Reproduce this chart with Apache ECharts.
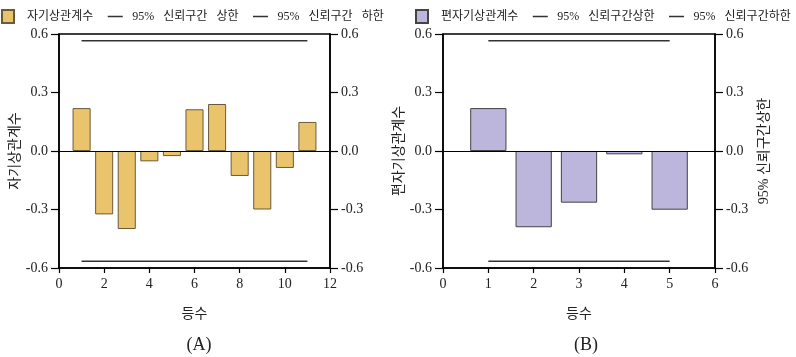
<!DOCTYPE html>
<html>
<head>
<meta charset="utf-8">
<script src="https://cdn.jsdelivr.net/npm/echarts@6/dist/echarts.min.js"></script>
<style>html,body{margin:0;padding:0;background:#fff}#c{width:796px;height:357px}</style>
</head>
<body>
<div id="c"></div>
<script>
// Panel A: autocorrelation (ACF)
var lagsA = [1,2,3,4,5,6,7,8,9,10,11];
var acfA = [0.22,-0.325,-0.40,-0.053,-0.026,0.214,0.241,-0.128,-0.30,-0.087,0.149];
var ciLagsA = [1,11];
var ciUpperA = [0.565,0.565];
var ciLowerA = [-0.565,-0.565];
// Panel B: partial autocorrelation (PACF)
var lagsB = [1,2,3,4,5];
var pacfB = [0.22,-0.391,-0.265,-0.017,-0.301];
var ciLagsB = [1,5];
var ciUpperB = [0.565,0.565];
var ciLowerB = [-0.565,-0.565];
// Ticks
var yTicks = [-0.6,-0.3,0,0.3,0.6];

var FONT = '"Liberation Serif","Noto Sans CJK KR",serif';
var KFONT = '"Noto Sans CJK KR","Liberation Serif",sans-serif';
function pairs(xs, ys){ return xs.map(function(x,i){ return [x, ys[i]]; }); }

var BAR_ICON = 'path://M0 0 L0 0 Z M4 0 L16 0 L16 13 L4 13 Z M24 0 L24 0 Z';
var LINE_ICON = 'path://M0 6 L0 6 Z M4.5 6 L19.5 6 L19.5 7.5 L4.5 7.5 Z M24 6 L24 6 Z';

function yAxes(gi, rightName){
  var base = {
    gridIndex: gi, type:'value', min:yTicks[0], max:yTicks[yTicks.length-1], interval:0.3,
    axisLine:{show:true, lineStyle:{color:'#000', width:1.5}},
    axisTick:{show:true, inside:false, length:8, lineStyle:{color:'#000', width:1.2}},
    axisLabel:{fontFamily:FONT, fontSize:14, color:'#222', margin:11,
      formatter:function(v){ return v.toFixed(1); }},
    splitLine:{show:false}
  };
  var l = Object.assign({}, base, {position:'left', name: gi===0?'자기상관계수':'편자기상관계수',
    nameLocation:'middle', nameRotate:90, nameGap:38,
    nameTextStyle:{fontFamily:KFONT, fontSize:14, color:'#222'}});
  var r = Object.assign({}, base, {position:'right'});
  if (rightName){
    r.name = rightName; r.nameLocation = 'middle'; r.nameRotate = 90; r.nameGap = 42;
    r.nameTextStyle = {fontFamily:FONT, fontSize:14, color:'#222'};
  }
  return [l, r];
}
function xAxis(gi, max, interval){
  return {
    gridIndex: gi, type:'value', min:0, max:max, interval:interval,
    name:'등수', nameLocation:'middle', nameGap:38,
    nameTextStyle:{fontFamily:KFONT, fontSize:14, color:'#222'},
    axisLine:{show:true, onZero:false, lineStyle:{color:'#000', width:1.5}},
    axisTick:{show:true, length:5, lineStyle:{color:'#000', width:1.2}},
    axisLabel:{fontFamily:FONT, fontSize:14, color:'#222', margin:9},
    splitLine:{show:false}
  };
}
var ya = yAxes(0, null), yb = yAxes(1, '95% 신뢰구간상한');
var zeroLine = {silent:true, symbol:['none','none'], label:{show:false},
  lineStyle:{color:'#000', width:1, type:'solid'}, data:[{yAxis:0}]};
var ciStyle = {color:'#333', width:1.5};
function legendFmt(name){ return name.replace(/ /g, '\u2002 '); }
function legendOf(left, names){
  return {left:left, top:9, width:400, padding:0, itemGap:10, itemWidth:24, itemHeight:13,
    textStyle:{fontFamily:FONT, fontSize:12, color:'#222'},
    formatter: legendFmt,
    data:[{name:names[0], icon:BAR_ICON},
          {name:names[1], icon:LINE_ICON},
          {name:names[2], icon:LINE_ICON}]};
}

var option = {
  animation:false,
  backgroundColor:'#fff',
  title:[
    {text:'(A)', left:194, top:331, textAlign:'center',
      textStyle:{fontFamily:FONT, fontSize:18, fontWeight:'normal', color:'#222'}},
    {text:'(B)', left:581, top:331, textAlign:'center',
      textStyle:{fontFamily:FONT, fontSize:18, fontWeight:'normal', color:'#222'}}
  ],
  legend:[
    legendOf(-3, ['자기상관계수','95% 신뢰구간 상한','95% 신뢰구간 하한']),
    legendOf(411, ['편자기상관계수','95% 신뢰구간상한','95% 신뢰구간하한'])
  ],
  grid:[
    {left:59, top:34, width:271, height:234, show:true, borderColor:'#000', borderWidth:1.5, backgroundColor:'transparent'},
    {left:443, top:34, width:272, height:234, show:true, borderColor:'#000', borderWidth:1.5, backgroundColor:'transparent'}
  ],
  xAxis:[xAxis(0,12,2), xAxis(1,6,1)],
  yAxis:[ya[0], ya[1], yb[0], yb[1]],
  series:[
    {name:'자기상관계수', type:'bar', xAxisIndex:0, yAxisIndex:0, barWidth:'80%',
      itemStyle:{color:'#E9C46C', borderColor:'#6b5a3a', borderWidth:1},
      data:pairs(lagsA, acfA), markLine:zeroLine},
    {name:'95% 신뢰구간 상한', type:'line', xAxisIndex:0, yAxisIndex:0, symbol:'none',
      itemStyle:{color:'#333'}, lineStyle:ciStyle, data:pairs(ciLagsA, ciUpperA)},
    {name:'95% 신뢰구간 하한', type:'line', xAxisIndex:0, yAxisIndex:0, symbol:'none',
      itemStyle:{color:'#333'}, lineStyle:ciStyle, data:pairs(ciLagsA, ciLowerA)},
    {name:'편자기상관계수', type:'bar', xAxisIndex:1, yAxisIndex:2, barWidth:'80%',
      itemStyle:{color:'#BCB6DC', borderColor:'#444', borderWidth:1},
      data:pairs(lagsB, pacfB), markLine:zeroLine},
    {name:'95% 신뢰구간상한', type:'line', xAxisIndex:1, yAxisIndex:2, symbol:'none',
      itemStyle:{color:'#333'}, lineStyle:ciStyle, data:pairs(ciLagsB, ciUpperB)},
    {name:'95% 신뢰구간하한', type:'line', xAxisIndex:1, yAxisIndex:2, symbol:'none',
      itemStyle:{color:'#333'}, lineStyle:ciStyle, data:pairs(ciLagsB, ciLowerB)}
  ]
};
var chart = echarts.init(document.getElementById('c'), null, {renderer:'canvas'});
chart.setOption(option);
</script>
</body>
</html>
